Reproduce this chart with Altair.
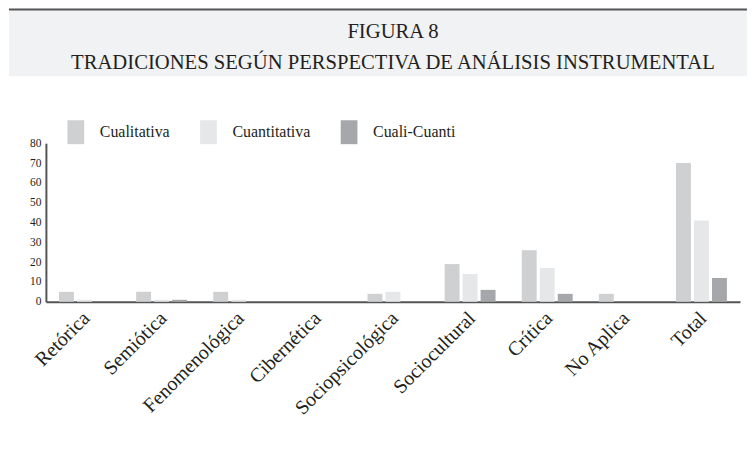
import altair as alt
import pandas as pd

categories = ["Retórica", "Semiótica", "Fenomenológica", "Cibernética",
              "Sociopsicológica", "Sociocultural", "Crítica", "No Aplica", "Total"]
series = ["Cualitativa", "Cuantitativa", "Cuali-Cuanti"]
cualitativa = [5, 5, 5, 0, 4, 19, 26, 4, 70]
cuantitativa = [1, 1, 1, 0, 5, 14, 17, 0, 41]
cuali_cuanti = [0, 1, 0, 0, 0, 6, 4, 0, 12]
colors = ["#cfd0d2", "#e6e7e9", "#a6a7aa"]
y_ticks = [0, 10, 20, 30, 40, 50, 60, 70, 80]
title_lines = ["FIGURA 8", "TRADICIONES SEGÚN PERSPECTIVA DE ANÁLISIS INSTRUMENTAL"]

FONT = "Liberation Serif"
TEXT = "#231f20"
AXIS = "#555555"

rows = []
for i, c in enumerate(categories):
    for s, vals in zip(series, [cualitativa, cuantitativa, cuali_cuanti]):
        rows.append({"categoria": c, "serie": s, "valor": vals[i]})
df = pd.DataFrame(rows)

main = alt.Chart(df).mark_bar().encode(
    x=alt.X("categoria:N", sort=categories,
            scale=alt.Scale(paddingInner=0.34, paddingOuter=0.17, range=[37, 733]),
            axis=alt.Axis(title=None, labelAngle=-45, labelFont=FONT, labelFontSize=20,
                          labelColor=TEXT, ticks=False, domainColor=AXIS, domainWidth=2,
                          labelPadding=6, labelOffset=-5)),
    xOffset=alt.XOffset("serie:N", sort=series, scale=alt.Scale(paddingInner=0.17)),
    y=alt.Y("valor:Q", scale=alt.Scale(domain=[0, 80]),
            axis=alt.Axis(values=y_ticks, title=None, grid=False, ticks=False,
                          domainColor=AXIS, domainWidth=2, labelFont=FONT,
                          labelFontSize=11.5, labelColor=TEXT, labelPadding=5,
                          offset=-37)),
    color=alt.Color("serie:N", sort=series,
                    scale=alt.Scale(domain=series, range=colors),
                    legend=alt.Legend(title=None, orient="none", legendX=55, legendY=111,
                                      direction="horizontal",
                                      symbolType="M-0.7,-1H0.7V1H-0.7Z", symbolSize=576,
                                      symbolStrokeWidth=0, symbolOpacity=1,
                                      labelFont=FONT, labelFontSize=16, labelColor=TEXT,
                                      labelOffset=12, columnPadding=26)),
).properties(width=733, height=159)

hdf = pd.DataFrame({"texto": title_lines, "fila": [0, 1]})
top_line = alt.Chart(hdf.head(1)).mark_rule(color=AXIS, strokeWidth=2).encode(
    x=alt.value(0), x2=alt.value(740), y=alt.value(0))
header_text = alt.Chart(hdf).mark_text(font=FONT, fontSize=20.7, color=TEXT,
                                       baseline="alphabetic", align="center").encode(
    text="texto:N",
    x=alt.value(385),
    y=alt.Y("fila:O", axis=None, scale=alt.Scale(range=[29, 60], padding=0)),
)
header = alt.layer(top_line, header_text).properties(
    width=740, height=67, view=alt.ViewBackground(fill="#f1f2f4", strokeWidth=0))

chart = alt.VConcatChart(vconcat=[header, main], spacing=61).properties(
    padding=0
).configure_view(strokeWidth=0)

chart.save("out.html", embed_options={"renderer": "svg", "actions": False})
